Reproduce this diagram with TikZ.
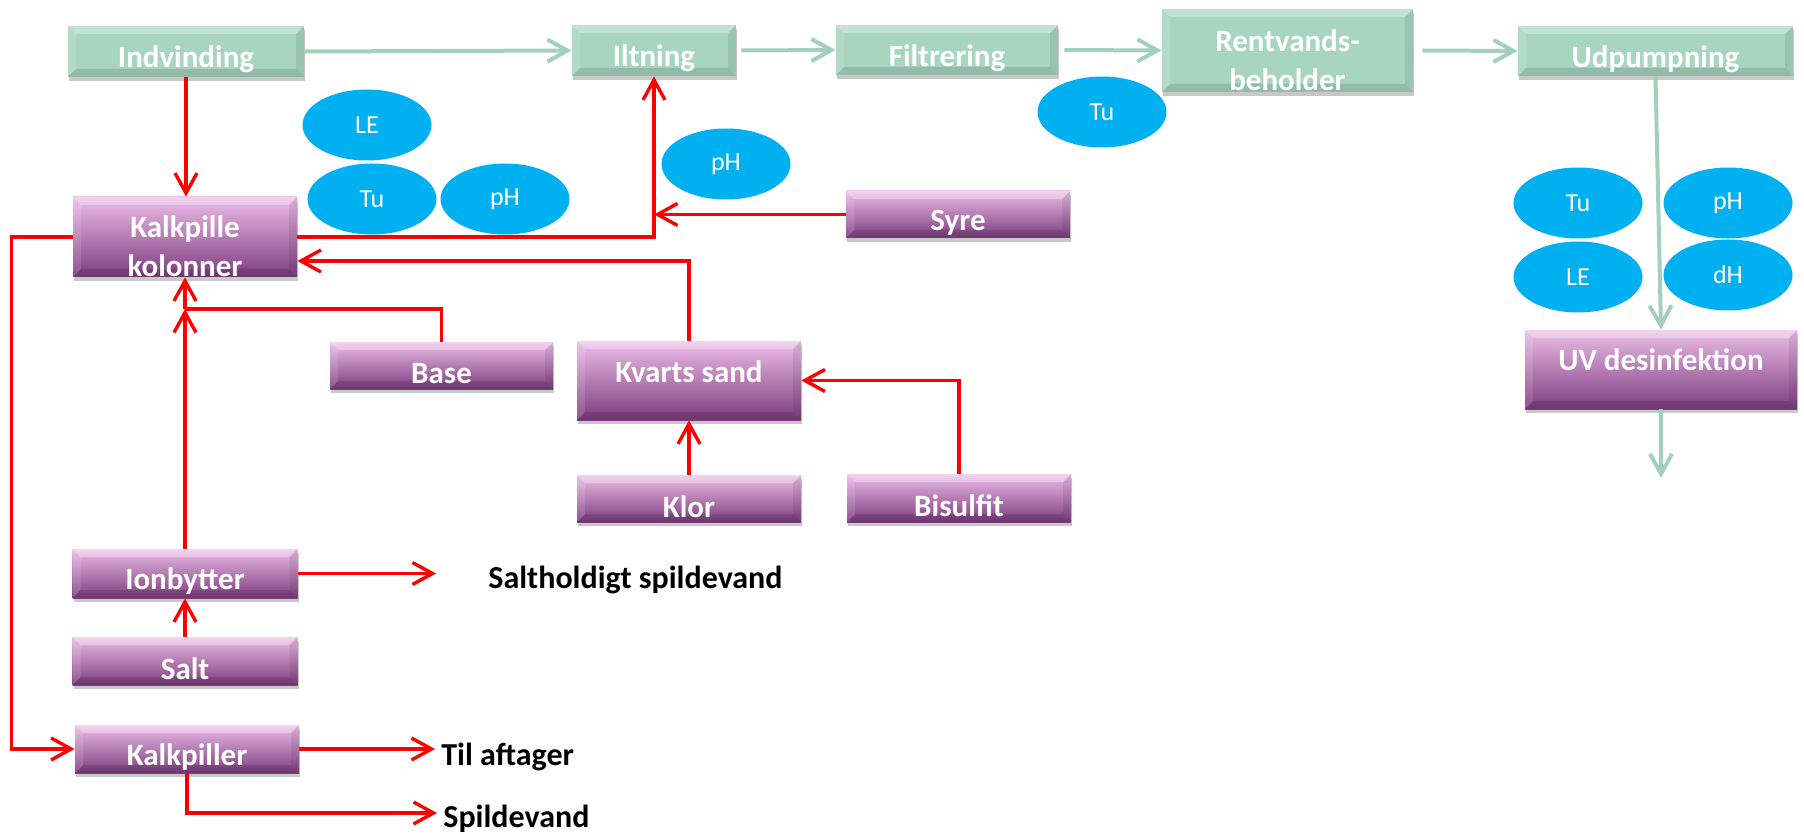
\documentclass[tikz,border=0pt]{standalone}
\usepackage{fontspec}
\setmainfont{Carlito}
\usetikzlibrary{arrows.meta,shapes.geometric,shadows,calc}
\definecolor{gfill}{HTML}{A8D5C2}
\definecolor{gline}{HTML}{A3D0BD}
\definecolor{ptop}{HTML}{EBBDE8}
\definecolor{pmid}{HTML}{B87AB6}
\definecolor{pbot}{HTML}{7E3C7F}
\definecolor{cyanb}{HTML}{00B0F0}
\definecolor{redl}{HTML}{FF0000}
\newcommand\lowr[2][-4pt]{\raisebox{#1}[\height][\depth]{#2}}
\tikzset{
  sz/.style 2 args={minimum width=#1*0.5pt,minimum height=#2*0.5pt},
  bevel/.style={path picture={
    \path (path picture bounding box.north west) coordinate (bbnw)
          (path picture bounding box.south east) coordinate (bbse)
          (path picture bounding box.north east) coordinate (bbne)
          (path picture bounding box.south west) coordinate (bbsw);
    \fill[white,opacity=.32] (bbnw) -- (bbne) -- ([shift={(-4pt,-4pt)}]bbne) -- ([shift={(4pt,-4pt)}]bbnw) -- cycle;
    \fill[black,opacity=.12] (bbsw) -- (bbse) -- ([shift={(-4pt,4pt)}]bbse) -- ([shift={(4pt,4pt)}]bbsw) -- cycle;
    \fill[white,opacity=.12] (bbnw) -- ([shift={(4pt,-4pt)}]bbnw) -- ([shift={(4pt,4pt)}]bbsw) -- (bbsw) -- cycle;
    \fill[black,opacity=.08] (bbne) -- ([shift={(-4pt,-4pt)}]bbne) -- ([shift={(-4pt,4pt)}]bbse) -- (bbse) -- cycle;
  }},
  boxbase/.style={rectangle,inner sep=0pt,text=white,
    font=\bfseries\fontsize{15.5}{19.5}\selectfont,
    drop shadow={shadow xshift=0.6pt,shadow yshift=-2pt,opacity=.3,fill=black!70},bevel},
  gbox/.style={boxbase,fill=gfill},
  pbox/.style={boxbase,top color=ptop,middle color=pmid,bottom color=pbot,shading angle=0},
  meas/.style={ellipse,fill=cyanb,inner sep=0pt,minimum width=64.5pt,minimum height=35.5pt,
    text=white,font=\fontsize{13}{15}\selectfont},
  garr/.style={draw=gline,line width=2pt,-{Straight Barb[length=10pt,width=11pt]}},
  rline/.style={draw=redl,line width=1.7pt},
  rarr/.style={rline,-{Straight Barb[length=10pt,width=11pt]}},
  otext/.style={inner sep=0pt,text=black,font=\bfseries\fontsize{16}{19}\selectfont}
}
\begin{document}
\begin{tikzpicture}[x=0.5pt,y=-0.5pt]
\useasboundingbox[fill=white] (0,0) rectangle (1804,834);

% green process chain
\node[gbox,sz={236}{51}] (ind) at (186,51.5) {\lowr{Indvinding}};
\node[gbox,sz={164}{51}] (ilt) at (654,50.5) {\lowr{Iltning}};
\node[gbox,sz={222}{50}] (fil) at (947,50) {\lowr{Filtrering}};
\node[gbox,sz={251}{83}] (ren) at (1287.5,50.5) {\lowr[-6.5pt]{\begin{tabular}{@{}c@{}}Rentvands-\\beholder\end{tabular}}};
\node[gbox,sz={275}{50}] (udp) at (1655.5,51) {\lowr{Udpumpning}};

% purple boxes
\node[pbox,sz={224}{80}] (kal) at (185,237) {\lowr[-6.25pt]{\begin{tabular}{@{}c@{}}Kalkpille\\kolonner\end{tabular}}};
\node[pbox,sz={224}{47}] (syre) at (958,214.5) {\lowr{Syre}};
\node[pbox,sz={223}{47}] (base) at (441.5,365.5) {\lowr{Base}};
\node[pbox,sz={224}{79}] (kva) at (689,380.5) {\lowr[4.5pt]{Kvarts sand}};
\node[pbox,sz={224}{47}] (klor) at (689,498.5) {\lowr{Klor}};
\node[pbox,sz={224}{48}] (bis) at (959,498) {\lowr{Bisulfit}};
\node[pbox,sz={225}{49}] (ion) at (185,573.5) {\lowr{Ionbytter}};
\node[pbox,sz={225}{48}] (salt) at (185,661) {\lowr{Salt}};
\node[pbox,sz={224}{48}] (kp) at (187,749) {\lowr{Kalkpiller}};
\node[pbox,sz={272}{79}] (uv) at (1661,369.5) {\lowr[4.75pt]{UV desinfektion}};

% measurement ellipses
\node[meas] (m1) at (367,125) {LE};
\node[meas] (m2) at (372,199) {Tu};
\node[meas] (m3) at (505,199) {pH};
\node[meas] (m4) at (726,164) {pH};
\node[meas] (m5) at (1102,112) {Tu};
\node[meas] (m6) at (1578,203) {Tu};
\node[meas] (m7) at (1728,203) {pH};
\node[meas] (m8) at (1578,277) {LE};
\node[meas] (m9) at (1728,275) {dH};

% green connectors
\draw[garr] (ind.east) -- (ilt.west);
\draw[garr] ([xshift=2.5pt]ilt.east) -- (fil.west);
\draw[garr] ([xshift=3pt]fil.east) -- (ren.west);
\draw[garr] ([xshift=4.5pt]ren.east) -- (udp.west);
\draw[garr] (udp.south) -- (uv.north);
\coordinate (uvout) at (1661,478);
\draw[garr] (uv.south) -- (uvout);

% red connectors
\draw[rarr] (ind.south) -- (ind.south |- kal.north);
\draw[rarr] (kal.east) -| (ilt.south);
\draw[rarr] (syre.west) -- (syre.west -| ilt.south);
\draw[rarr] (kva.north) |- ($(kal.east)+(0,24)$);
\coordinate (j1) at (185,309);
\draw[rline] (base.north) |- (j1);
\draw[rarr] (j1) -- (kal.south);
\draw[rarr] (ion.north) -- (j1);
\draw[rarr] (salt.north) -- (ion.south);
\draw[rarr] (klor.north) -- (kva.south);
\draw[rarr] (bis.north) |- (kva.east);
\draw[rarr] (kal.west) -- ++(-61,0) |- (kp.west);

\coordinate (o1) at (436,573.5);
\draw[rarr] (ion.east) -- (o1);
\node[otext,anchor=west] (t1) at (488,580) {Saltholdigt spildevand};
\coordinate (o2) at (435,749);
\draw[rarr] (kp.east) -- (o2);
\node[otext,anchor=west] (t2) at (441,757) {Til aftager};
\coordinate (o3) at (437,813);
\draw[rarr] (kp.south) |- (o3);
\node[otext,anchor=west] (t3) at (443,819) {Spildevand};
\end{tikzpicture}
\end{document}
